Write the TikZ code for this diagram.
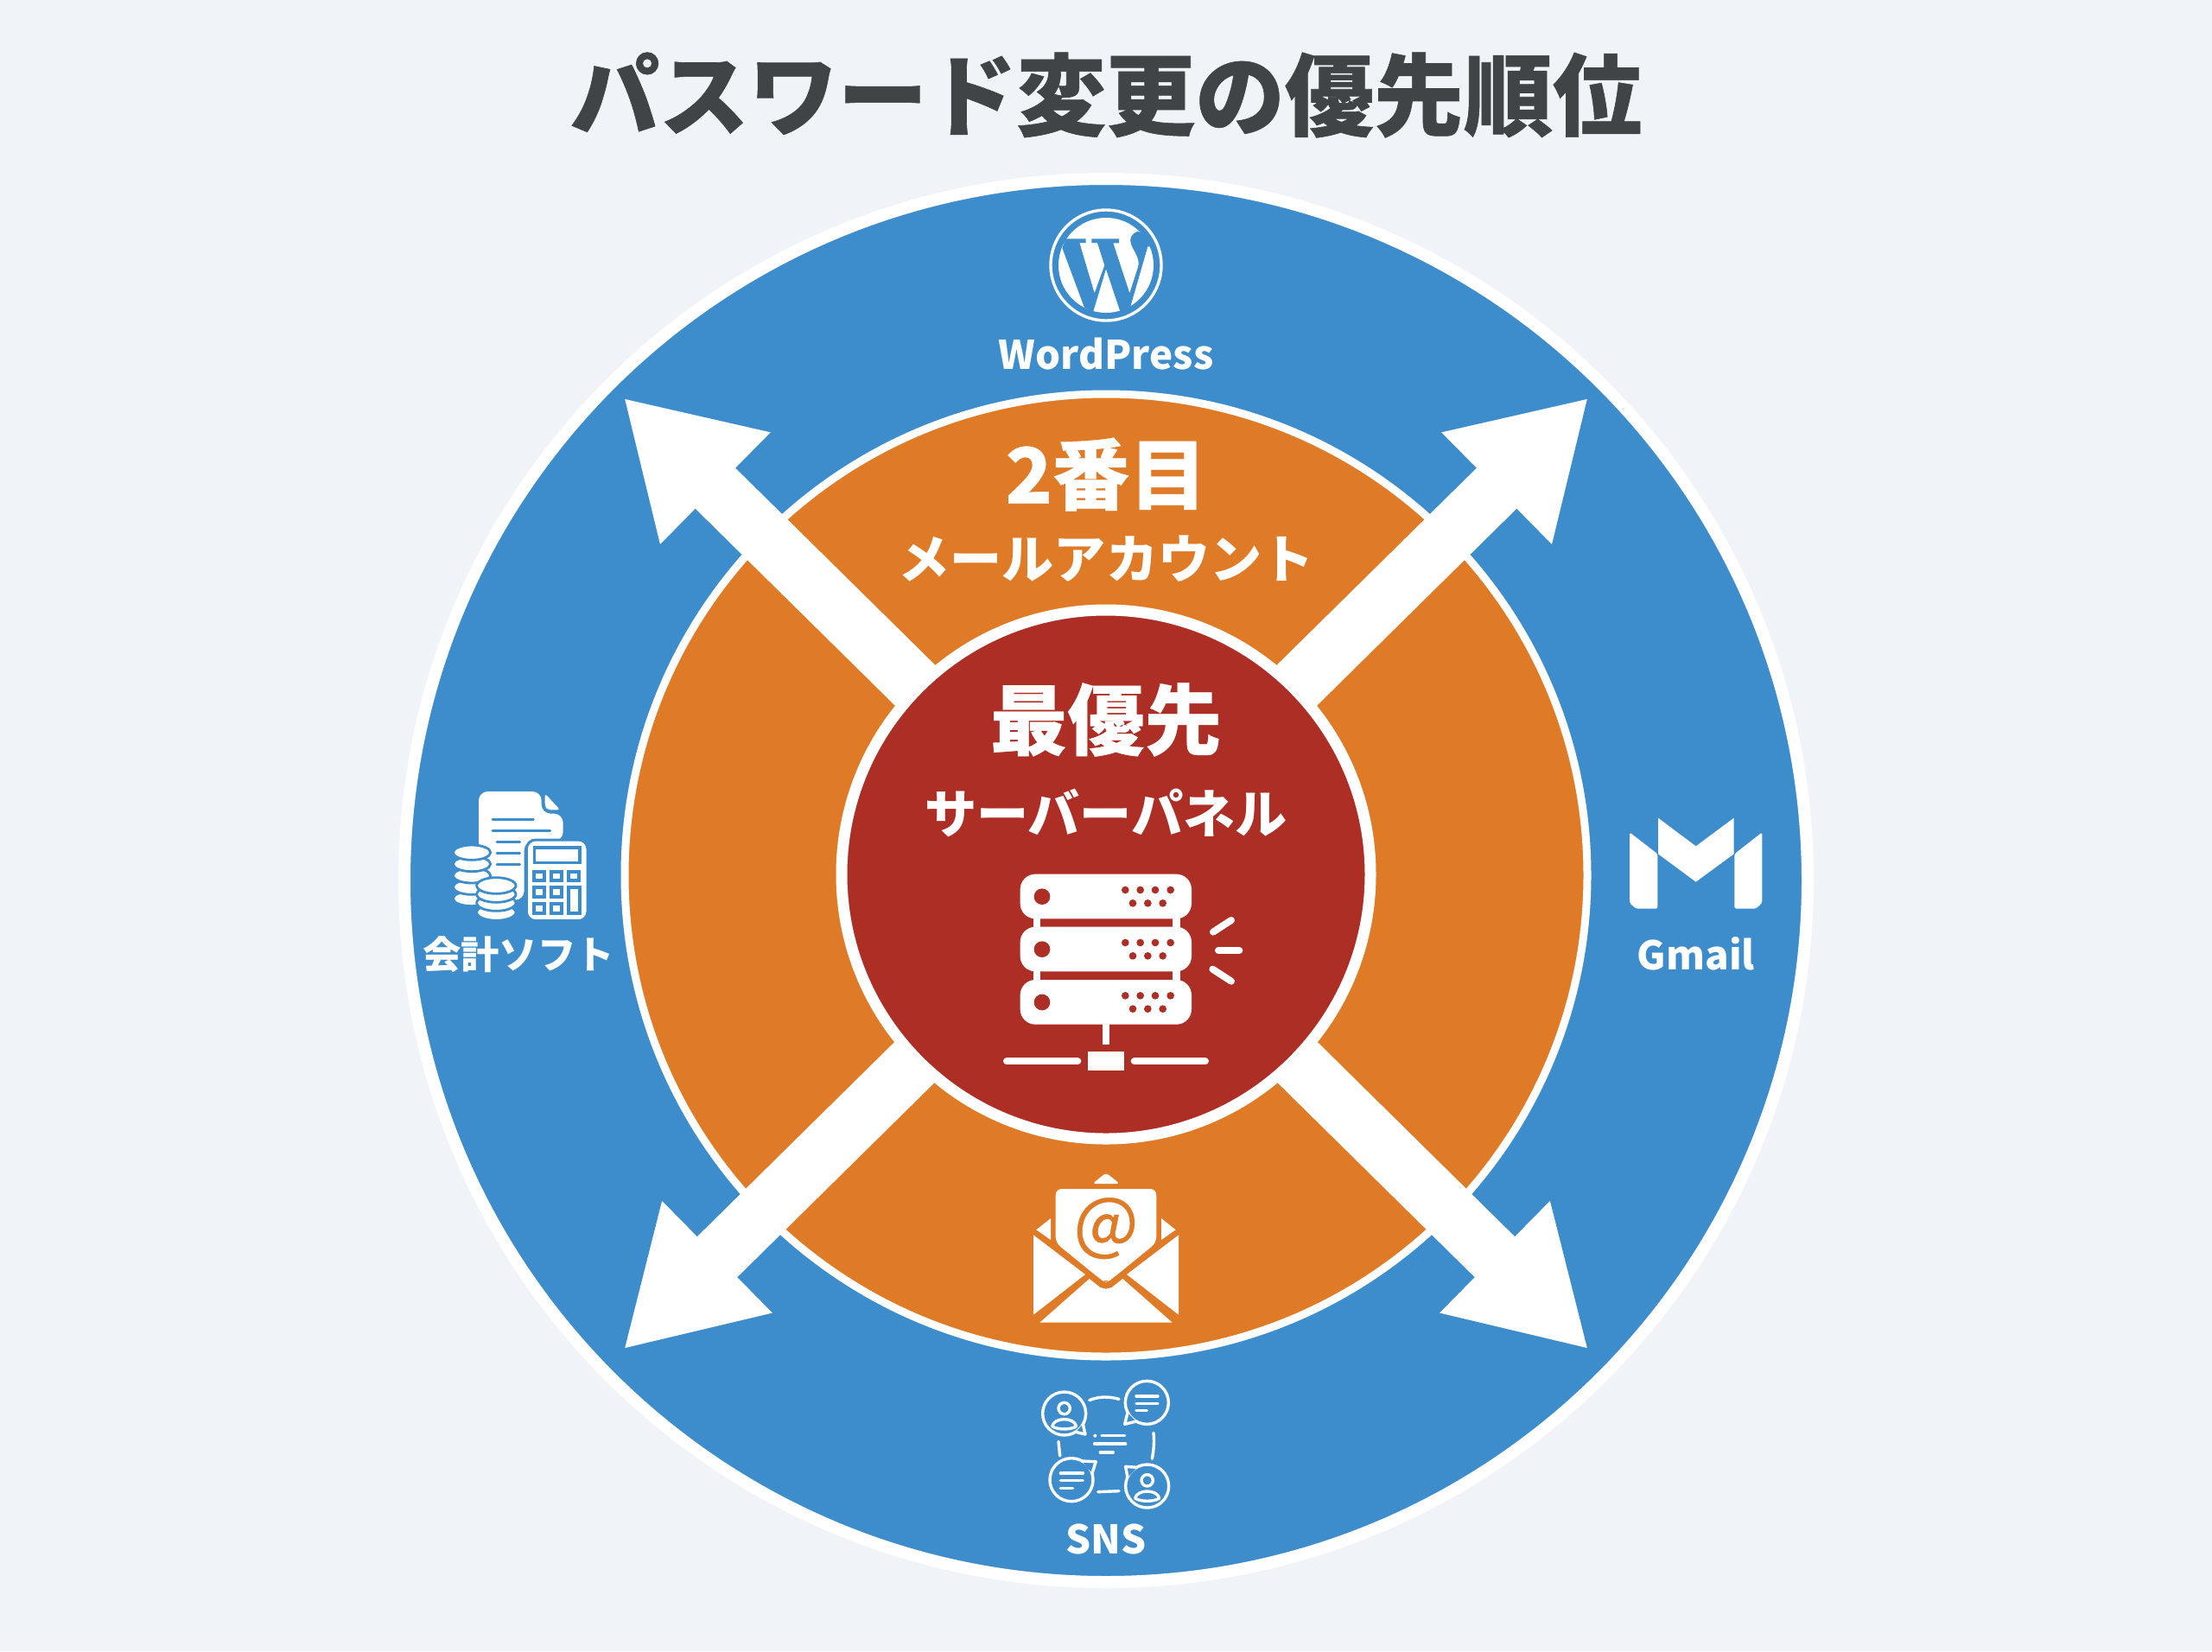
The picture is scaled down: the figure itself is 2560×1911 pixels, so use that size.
\documentclass[tikz,border=0pt]{standalone}
\usepackage{fontspec}
\newfontfamily\jpfont{Noto Sans CJK JP}
\definecolor{bgcol}{HTML}{F0F3F8}
\definecolor{bluecol}{HTML}{3D8CCB}
\definecolor{orangecol}{HTML}{DF7A27}
\definecolor{redcol}{HTML}{AD2E25}
\definecolor{titlecol}{HTML}{404447}
\tikzset{
    px/.style={line width=#1*.2845pt},
    label16/.style={inner sep=0pt, text=white, font=\jpfont\bfseries\fontsize{17.1}{20}\selectfont},
    label13/.style={inner sep=0pt, text=white, font=\jpfont\bfseries\fontsize{13}{16}\selectfont},
    label25/.style={inner sep=0pt, text=white, font=\jpfont\bfseries\addfontfeature{FakeBold=.4}\fontsize{25.4}{28}\selectfont},
    snsline/.style={draw=white, px=3.4, line cap=round, line join=round},
}
\begin{document}
\begin{tikzpicture}[x=.01cm, y=-.01cm]
\useasboundingbox (0,0) rectangle (2560,1911);
\fill[bgcol] (0,0) rectangle (2560,1911);

\node (title) at (1280,110)[inner sep=0pt, text=titlecol, font=\jpfont\bfseries\addfontfeature{FakeBold=.6}\fontsize{29.4}{32}\selectfont]{パスワード変更の優先順位};

% rings
\filldraw[fill=bluecol, draw=white, px=14] (1280,1019) circle[radius=812];
\filldraw[fill=orangecol, draw=white, px=9] (1280,1013) circle[radius=557];

% arrows
\foreach \a/\h in {44.6/635,135.4/635,224.6/632,315.4/632}
{
    \begin{scope}[shift={(1280,1011)}, rotate=\a]
    \fill[white] (0,-33)--(\h,-33)--(\h,-91)--(782,0)--(\h,91)--(\h,33)--(0,33)--cycle;
    \end{scope}
}
\filldraw[fill=redcol, draw=white, px=13] (1280,1012) circle[radius=306];

\node (first) at (1280,833)[label25]{最優先};
\node (panel) at (1280,941)[label16]{サーバーパネル};
\node (second) at (1280,549)[label25]{2番目};
\node (mail) at (1280,647)[label16]{メールアカウント};
\node (wp) at (1280,410)[label13]{WordPress};
\node (gmail) at (1963,1104)[label13]{Gmail};
\node (sns) at (1280,1781)[label13]{SNS};
\node (soft) at (600,1105)[label13, font=\jpfont\bfseries\fontsize{12.6}{15}\selectfont]{会計ソフト};

% wordpress icon
\begin{scope}[shift={(1100,222)}, scale=1/3]
\draw[white, px=3.4] (540,255) circle[radius=192];
\fill[white] (540,255) circle[radius=165];
\fill[bluecol] (400,163)--(470,163)--(470,177)--(448,177)--(500,352)--(535,255)--(510,177)--(490,177)--(490,163)--(585,163)--(585,178)--(565,178)--(622,352)--(650,265) .. controls (668,225) and (610,185) .. (628,155) .. controls (635,145) and (642,140) .. (650,137)--(680,150)--(706,190)--(685,190)--(625,398)--(590,418)--(540,268)--(495,418)--(465,402)--(388,195)--cycle;
\end{scope}

% accounting icon
\begin{scope}[shift={(480,890)}, scale=1/3]
\fill[white, rounded corners=3pt] (222,78)--(440,78)--(440,155)--(515,155)--(515,250)--(380,250)--(380,455)--(222,455)--cycle;
\fill[white, rounded corners=1pt] (452,85)--(505,142)--(462,142)--(452,130)--cycle;
\foreach \xa/\xb/\y in {270/412/175,270/470/215,285/365/253,285/365/292,285/365/332}
{
    \draw[bluecol, px=2.8, line cap=round] (\xa,\y)--(\xb,\y);
}
\foreach \y in {450,410,370,330,290}
{
    \filldraw[fill=white, draw=bluecol, px=2.8] (198,\y) ellipse[x radius=65, y radius=26];
}
\foreach \y in {498,465,435,405}
{
    \filldraw[fill=white, draw=bluecol, px=2.8] (283,\y) ellipse[x radius=68, y radius=28];
}
\filldraw[fill=white, draw=bluecol, px=3, rounded corners=3pt] (388,246) rectangle (600,527);
\fill[bluecol] (410,268) rectangle (578,330);
\fill[white] (420,278) rectangle (568,320);
\foreach \xa in {408,468,528}
{
    \foreach \ya in {350,405,462}
    {
        \fill[bluecol] (\xa,\ya) rectangle +(48,44);
        \fill[white] (\xa+12,\ya+12) rectangle +(24,20);
    }
}
\fill[bluecol] (528,405) rectangle (578,506);
\fill[white] (540,418) rectangle (566,494);
\end{scope}

% server icon
\begin{scope}[shift={(1130,990)}, scale=1/3]
\foreach \y in {0,183,367}
{
    \begin{scope}[shift={(0,\y)}]
    \fill[white, rounded corners=5pt] (152,65) rectangle (747,220);
    \fill[redcol] (228,143) circle[radius=28];
    \foreach \x in {517,569,621,674}
        \fill[redcol] (\x,120) circle[radius=13];
    \foreach \x in {543,595,647}
        \fill[redcol] (\x,166) circle[radius=13];
    \end{scope}
}
\foreach \y in {215,398}
{
    \fill[white] (197,\y) rectangle (222,\y+40);
    \fill[white] (682,\y) rectangle (707,\y+40);
}
\fill[white] (437,585) rectangle (463,658);
\fill[white] (388,682) rectangle (512,748);
\draw[white, px=8, line cap=round] (105,715)--(352,715);
\draw[white, px=8, line cap=round] (548,715)--(795,715);
\draw[white, px=8, line cap=round] (822,266)--(885,225);
\draw[white, px=8, line cap=round] (840,330)--(913,330);
\draw[white, px=8, line cap=round] (820,395)--(885,437);
\end{scope}

% mail icon
\begin{scope}[shift={(1170,1340)}, scale=1/3]
\fill[white, rounded corners=1pt] (283,90)--(378,90)--(330,52)--cycle;
\fill[white, rounded corners=2pt] (155,108)--(505,108)--(505,295)--(345,425)--(330,432)--(315,425)--(155,295)--cycle;
\fill[white] (88,250)--(138,210)--(138,285)--cycle;
\fill[white] (522,210)--(572,250)--(522,285)--cycle;
\fill[white] (78,268)--(258,405)--(78,545)--cycle;
\fill[white] (582,268)--(402,405)--(582,545)--cycle;
\fill[white] (100,572)--(272,420)--(310,450)--(330,455)--(350,450)--(388,420)--(560,572)--cycle;
\node (at) at (330,245)[inner sep=0pt, text=orangecol, font=\jpfont\addfontfeature{FakeBold=.5}\fontsize{22.5}{25}\selectfont]{@};
\end{scope}

% gmail icon
\begin{scope}[shift={(1860,920)}, scale=1/3]
\fill[white, rounded corners=.5pt] (78,130)--(175,205)--(175,395)--(100,395)--(78,375)--cycle;
\fill[white] (177,80)--(308,178)--(440,80)--(440,205)--(308,302)--(177,205)--cycle;
\fill[white, rounded corners=.5pt] (538,130)--(442,205)--(442,395)--(516,395)--(538,375)--cycle;
\end{scope}

% sns icon
\begin{scope}[shift={(1190,1580)}, scale=1/3]
\foreach \cx/\cy/\ax/\ay/\tx/\ty/\bx/\by in {125/168/190/205/198/240/165/232, 412/130/345/165/335/205/375/195, 150/398/185/333/235/335/222/375, 413/420/378/355/338/352/345/390}
{
    \draw[snsline] (\cx,\cy) circle[radius=75];
    \filldraw[snsline, fill=bluecol] (\ax,\ay)--(\tx,\ty)--(\bx,\by);
}
\foreach \cx/\cy in {125/150,413/400}
{
    \draw[snsline] (\cx,\cy) circle[radius=20];
    \draw[snsline] (\cx-42,\cy+62) .. controls (\cx-35,\cy+30) and (\cx+35,\cy+30) .. (\cx+42,\cy+62) .. controls (\cx+25,\cy+75) and (\cx-25,\cy+75) .. (\cx-42,\cy+62);
}
\foreach \xa/\ya/\xb/\yb in {375/108/450/108,375/133/450/133,375/158/412/158,112/375/190/375,112/400/190/400,112/428/155/428,255/245/335/245,230/273/338/273,250/303/295/303,105/265/110/315,242/440/315/437}
{
    \draw[snsline] (\xa,\ya)--(\xb,\yb);
}
\draw[snsline] (212,122) .. controls (245,108) and (280,108) .. (315,118);
\draw[snsline] (435,235) .. controls (438,265) and (436,295) .. (430,325);
\fill[white] (232,245) circle[radius=6];
\end{scope}
\end{tikzpicture}
\end{document}
